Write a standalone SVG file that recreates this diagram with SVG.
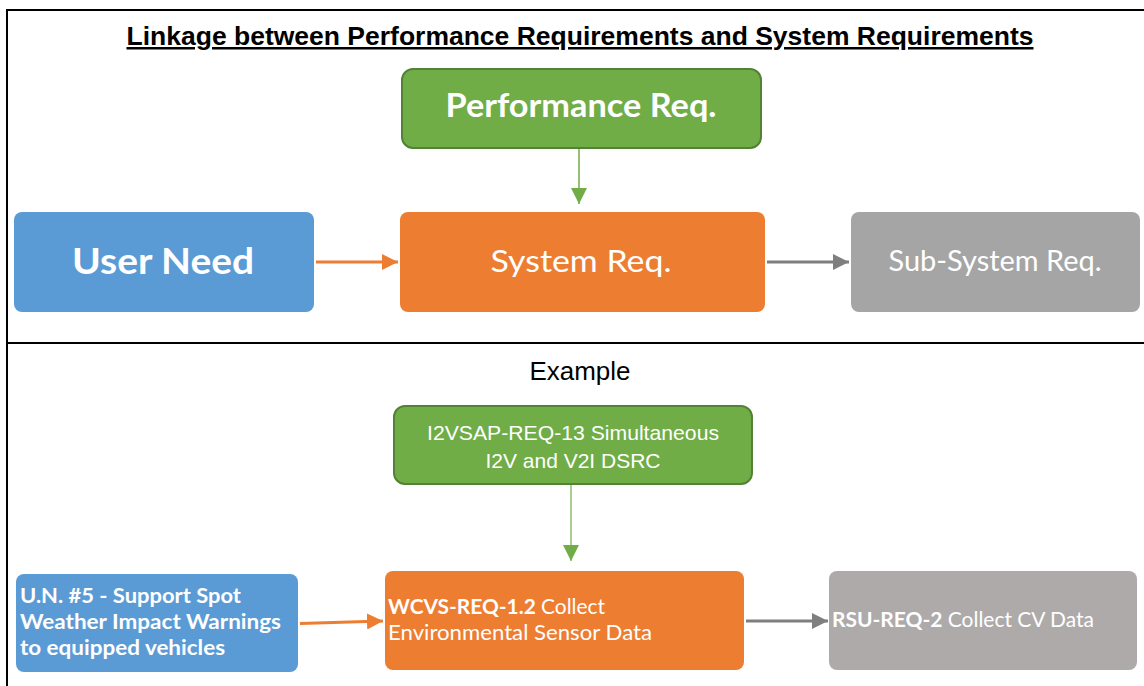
<svg xmlns="http://www.w3.org/2000/svg" width="1144" height="686" viewBox="0 0 1144 686">
<defs>
<style>
.cal{font-family:Lato,"Open Sans","Liberation Sans",sans-serif;fill:#fff}
.ari{font-family:"Liberation Sans",Arial,sans-serif}
.b{font-weight:bold}
</style>
<marker id="hg" viewBox="0 0 16 16" refX="16" refY="8" markerWidth="16" markerHeight="16" markerUnits="userSpaceOnUse" orient="auto"><path d="M0,0 L16,8 L0,16 Z" fill="#70AD47"/></marker>
<marker id="ho" viewBox="0 0 16 16" refX="16" refY="8" markerWidth="16" markerHeight="16" markerUnits="userSpaceOnUse" orient="auto"><path d="M0,0 L16,8 L0,16 Z" fill="#ED7D31"/></marker>
<marker id="hy" viewBox="0 0 16 16" refX="16" refY="8" markerWidth="16" markerHeight="16" markerUnits="userSpaceOnUse" orient="auto"><path d="M0,0 L16,8 L0,16 Z" fill="#7F7F7F"/></marker>
</defs>
<rect width="1144" height="686" fill="#fff"/>
<g id="frame" fill="none" stroke="#000" stroke-width="2">
<path d="M7,700 V10 H1146"/>
<path d="M7,343 H1146"/>
</g>
<text class="ari b" x="580" y="45" font-size="25" text-anchor="middle" text-decoration="underline" textLength="907" lengthAdjust="spacingAndGlyphs">Linkage between Performance Requirements and System Requirements</text>
<text class="ari" x="580" y="380" font-size="25" text-anchor="middle" textLength="101" lengthAdjust="spacingAndGlyphs">Example</text>
<g id="connectors" fill="none">
<path d="M579,148 V204" stroke="#70AD47" stroke-width="1.5" marker-end="url(#hg)"/>
<path d="M316,262 H398" stroke="#ED7D31" stroke-width="3" marker-end="url(#ho)"/>
<path d="M767,262 H849" stroke="#7F7F7F" stroke-width="3" marker-end="url(#hy)"/>
<path d="M571,485 V561" stroke="#8CC168" stroke-width="1.5" marker-end="url(#hg)"/>
<path d="M300,623.5 L383,621" stroke="#ED7D31" stroke-width="3" marker-end="url(#ho)"/>
<path d="M746,621 H828" stroke="#7F7F7F" stroke-width="3" marker-end="url(#hy)"/>
</g>
<g id="perf">
<rect x="402" y="69" width="359" height="79" rx="11" fill="#70AD47" stroke="#548235" stroke-width="2"/>
<text class="cal b" x="581" y="117" font-size="33" text-anchor="middle" textLength="271" lengthAdjust="spacingAndGlyphs">Performance Req.</text>
</g>
<g id="userneed">
<rect x="14" y="212" width="300" height="100" rx="8" fill="#5B9BD5"/>
<text class="cal b" x="163" y="274" font-size="37" text-anchor="middle" textLength="182" lengthAdjust="spacingAndGlyphs">User Need</text>
</g>
<g id="sysreq">
<rect x="400" y="212" width="365" height="100" rx="8" fill="#ED7D31"/>
<text class="cal" x="581" y="272" font-size="31" text-anchor="middle" textLength="181" lengthAdjust="spacingAndGlyphs">System Req.</text>
</g>
<g id="subsys">
<rect x="851" y="212" width="289" height="100" rx="8" fill="#A5A5A5"/>
<text class="cal" x="995" y="271" font-size="28" text-anchor="middle" textLength="213" lengthAdjust="spacingAndGlyphs">Sub-System Req.</text>
</g>
<g id="i2vsap">
<rect x="394" y="406" width="358" height="78" rx="11" fill="#70AD47" stroke="#548235" stroke-width="2"/>
<text class="ari" x="573" y="440" font-size="21" fill="#fff" text-anchor="middle" textLength="292" lengthAdjust="spacingAndGlyphs">I2VSAP-REQ-13 Simultaneous</text>
<text class="ari" x="573" y="468" font-size="21" fill="#fff" text-anchor="middle">I2V and V2I DSRC</text>
</g>
<g id="un5">
<rect x="16" y="574" width="282" height="98" rx="8" fill="#5B9BD5"/>
<text class="cal b" x="20" y="603" font-size="21" textLength="221" lengthAdjust="spacingAndGlyphs">U.N. #5 - Support Spot</text>
<text class="cal b" x="20" y="629" font-size="21" textLength="261" lengthAdjust="spacingAndGlyphs">Weather Impact Warnings</text>
<text class="cal b" x="20" y="655" font-size="21" textLength="205" lengthAdjust="spacingAndGlyphs">to equipped vehicles</text>
</g>
<g id="wcvs">
<rect x="385" y="571" width="359" height="99" rx="8" fill="#ED7D31"/>
<text class="cal" x="388" y="614" font-size="21" textLength="217" lengthAdjust="spacingAndGlyphs"><tspan class="b">WCVS-REQ-1.2</tspan> Collect</text>
<text class="cal" x="388" y="640" font-size="21" textLength="264" lengthAdjust="spacingAndGlyphs">Environmental Sensor Data</text>
</g>
<g id="rsu">
<rect x="829" y="571" width="308" height="99" rx="8" fill="#AEAAAA"/>
<text class="cal" x="832" y="627" font-size="21" textLength="262" lengthAdjust="spacingAndGlyphs"><tspan class="b">RSU-REQ-2</tspan> Collect CV Data</text>
</g>
</svg>
